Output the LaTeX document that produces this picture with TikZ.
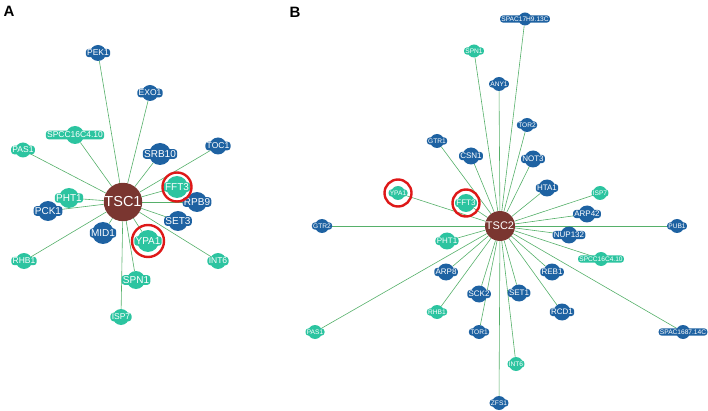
\documentclass[tikz,border=0pt]{standalone}
\usepackage{fontspec}
\setmainfont{Liberation Sans}
\usetikzlibrary{backgrounds}
\definecolor{geneblue}{RGB}{30,98,162}
\definecolor{geneteal}{RGB}{44,196,160}
\definecolor{hubbrown}{RGB}{122,54,48}
\definecolor{edgegreen}{RGB}{86,176,106}
\definecolor{ringred}{RGB}{222,24,24}
\tikzset{
  edge/.style={draw=edgegreen, line width=0.6pt},
  blu/.style={circle, fill=geneblue, inner sep=0pt},
  tea/.style={circle, fill=geneteal, inner sep=0pt},
  tagb/.style={fill=geneblue, rounded corners=3pt, inner sep=1.3pt, text=white},
  tagt/.style={fill=geneteal, rounded corners=3pt, inner sep=1.3pt, text=white},
  hub/.style={circle, fill=hubbrown, text=white, inner sep=0pt},
  ring/.style={circle, draw=ringred, line width=2.4pt, inner sep=0pt},
  panel/.style={font=\fontsize{15}{15}\selectfont\bfseries},
  fA/.style={font=\fontsize{8.5}{8.5}\selectfont},
  fAb/.style={font=\fontsize{10}{10}\selectfont},
  fB/.style={font=\fontsize{6.6}{6.6}\selectfont},
  fBb/.style={font=\fontsize{8}{8}\selectfont}
}
\begin{document}
\begin{tikzpicture}[x=1pt,y=-1pt]
\useasboundingbox (0,0) rectangle (708,411);
\node [panel] (lblA) at (9,11) {A};
\node [panel] (lblB) at (295,12) {B};
% panel A
\node [hub, minimum size=34pt, font=\fontsize{14.5}{14.5}\selectfont] (tsc1) at (123,202) {TSC1};
\node [blu, minimum size=16pt, label={[tagb,fA]center:PEK1}] (pek1a) at (98,53) {};
\node [blu, minimum size=16pt, label={[tagb,fA]center:EXO1}] (exo1a) at (150,93) {};
\node [tea, minimum size=18pt, label={[tagt,fA]center:SPCC16C4.10}] (spcca) at (75,135) {};
\node [tea, minimum size=15pt, label={[tagt,fA]center:PAS1}] (pas1a) at (23,150) {};
\node [blu, minimum size=22pt, label={[tagb,fAb]center:SRB10}] (srb10a) at (160,154) {};
\node [blu, minimum size=17pt, label={[tagb,fA]center:TOC1}] (toc1a) at (218,146) {};
\node [tea, minimum size=22pt, label={[tagt,fAb]center:FFT3}] (fft3a) at (177,187) {};
\node [blu, minimum size=20pt, label={[tagb,fAb]center:RPB9}] (rpb9a) at (197,202) {};
\node [blu, minimum size=20pt, label={[tagb,fAb]center:SET3}] (set3a) at (178,221) {};
\node [tea, minimum size=20pt, label={[tagt,fAb]center:PHT1}] (pht1a) at (69,198) {};
\node [blu, minimum size=20pt, label={[tagb,fAb]center:PCK1}] (pck1a) at (48,211) {};
\node [blu, minimum size=22pt, label={[tagb,fAb]center:MID1}] (mid1a) at (103,233) {};
\node [tea, minimum size=22pt, label={[tagt,fAb]center:YPA1}] (ypa1a) at (148,241) {};
\node [tea, minimum size=16pt, label={[tagt,fA]center:RHB1}] (rhb1a) at (24,261) {};
\node [tea, minimum size=16pt, label={[tagt,fA]center:INT6}] (int6a) at (218,261) {};
\node [tea, minimum size=18pt, label={[tagt,fAb]center:SPN1}] (spn1a) at (136,280) {};
\node [tea, minimum size=16pt, label={[tagt,fA]center:ISP7}] (isp7a) at (121,317) {};
\node [ring, minimum size=29pt] (ringfa) at (fft3a) {};
\node [ring, minimum size=32pt] (ringya) at (ypa1a) {};
% panel B
\node [hub, minimum size=30pt, font=\fontsize{11}{11}\selectfont] (tsc2) at (500,226) {TSC2};
\node [blu, minimum size=13pt, label={[tagb,fB]center:SPAC17H9.13C}] (spac17b) at (525,19) {};
\node [tea, minimum size=13pt, label={[tagt,fB]center:SPN1}] (spn1b) at (474,51) {};
\node [blu, minimum size=14pt, label={[tagb,fB]center:ANY1}] (any1b) at (499,84) {};
\node [blu, minimum size=14pt, label={[tagb,fB]center:TOR2}] (tor2b) at (527,125) {};
\node [blu, minimum size=14pt, label={[tagb,fB]center:GTR1}] (gtr1b) at (437,141) {};
\node [blu, minimum size=17pt, label={[tagb,fBb]center:CSN1}] (csn1b) at (471,156) {};
\node [blu, minimum size=17pt, label={[tagb,fBb]center:NOT3}] (not3b) at (533,159) {};
\node [blu, minimum size=17pt, label={[tagb,fBb]center:HTA1}] (hta1b) at (547,188) {};
\node [tea, minimum size=14pt, label={[tagt,fB]center:ISP7}] (isp7b) at (600,193) {};
\node [tea, minimum size=14pt, label={[tagt,fB]center:YPA1}] (ypa1b) at (398,193) {};
\node [tea, minimum size=18pt, label={[tagt,fBb]center:FFT3}] (fft3b) at (466,203) {};
\node [blu, minimum size=17pt, label={[tagb,fBb]center:ARP42}] (arp42b) at (587,214) {};
\node [blu, minimum size=14pt, label={[tagb,fB]center:GTR2}] (gtr2b) at (322,226) {};
\node [blu, minimum size=14pt, label={[tagb,fB]center:PUB1}] (pub1b) at (677,226) {};
\node [blu, minimum size=17pt, label={[tagb,fBb]center:NUP132}] (nup132b) at (569,235) {};
\node [tea, minimum size=17pt, label={[tagt,fBb]center:PHT1}] (pht1b) at (447,241) {};
\node [tea, minimum size=14pt, label={[tagt,fB]center:SPCC16C4.10}] (spccb) at (601,259) {};
\node [blu, minimum size=17pt, label={[tagb,fBb]center:ARP8}] (arp8b) at (446,272) {};
\node [blu, minimum size=17pt, label={[tagb,fBb]center:REB1}] (reb1b) at (552,272) {};
\node [blu, minimum size=17pt, label={[tagb,fBb]center:SCK2}] (sck2b) at (479,294) {};
\node [blu, minimum size=17pt, label={[tagb,fBb]center:SET1}] (set1b) at (519,293) {};
\node [tea, minimum size=14pt, label={[tagt,fB]center:RHB1}] (rhb1b) at (437,312) {};
\node [blu, minimum size=17pt, label={[tagb,fBb]center:RCD1}] (rcd1b) at (562,312) {};
\node [tea, minimum size=14pt, label={[tagt,fB]center:PAS1}] (pas1b) at (315,332) {};
\node [blu, minimum size=14pt, label={[tagb,fB]center:TOR1}] (tor1b) at (479,332) {};
\node [blu, minimum size=14pt, label={[tagb,fB]center:SPAC1687.14C}] (spac1687b) at (683,332) {};
\node [tea, minimum size=14pt, label={[tagt,fB]center:INT6}] (int6b) at (516,364) {};
\node [blu, minimum size=14pt, label={[tagb,fB]center:ZFS1}] (zfs1b) at (499,403) {};
\node [ring, minimum size=27pt] (ringfb) at (fft3b) {};
\node [ring, minimum size=27pt] (ringyb) at (ypa1b) {};
% edges
\begin{scope}[on background layer]
\draw [edge] (tsc1) -- (pek1a);
\draw [edge] (tsc1) -- (exo1a);
\draw [edge] (tsc1) -- (spcca);
\draw [edge] (tsc1) -- (pas1a);
\draw [edge] (tsc1) -- (srb10a);
\draw [edge] (tsc1) -- (toc1a);
\draw [edge] (tsc1) -- (fft3a);
\draw [edge] (tsc1) -- (rpb9a);
\draw [edge] (tsc1) -- (set3a);
\draw [edge] (tsc1) -- (pht1a);
\draw [edge] (tsc1) -- (pck1a);
\draw [edge] (tsc1) -- (mid1a);
\draw [edge] (tsc1) -- (ypa1a);
\draw [edge] (tsc1) -- (rhb1a);
\draw [edge] (tsc1) -- (int6a);
\draw [edge] (tsc1) -- (spn1a);
\draw [edge] (tsc1) -- (isp7a);
\draw [edge] (tsc2) -- (spac17b);
\draw [edge] (tsc2) -- (spn1b);
\draw [edge] (tsc2) -- (any1b);
\draw [edge] (tsc2) -- (tor2b);
\draw [edge] (tsc2) -- (gtr1b);
\draw [edge] (tsc2) -- (csn1b);
\draw [edge] (tsc2) -- (not3b);
\draw [edge] (tsc2) -- (hta1b);
\draw [edge] (tsc2) -- (isp7b);
\draw [edge] (tsc2) -- (ypa1b);
\draw [edge] (tsc2) -- (fft3b);
\draw [edge] (tsc2) -- (arp42b);
\draw [edge] (tsc2) -- (gtr2b);
\draw [edge] (tsc2) -- (pub1b);
\draw [edge] (tsc2) -- (nup132b);
\draw [edge] (tsc2) -- (pht1b);
\draw [edge] (tsc2) -- (spccb);
\draw [edge] (tsc2) -- (arp8b);
\draw [edge] (tsc2) -- (reb1b);
\draw [edge] (tsc2) -- (sck2b);
\draw [edge] (tsc2) -- (set1b);
\draw [edge] (tsc2) -- (rhb1b);
\draw [edge] (tsc2) -- (rcd1b);
\draw [edge] (tsc2) -- (pas1b);
\draw [edge] (tsc2) -- (tor1b);
\draw [edge] (tsc2) -- (spac1687b);
\draw [edge] (tsc2) -- (int6b);
\draw [edge] (tsc2) -- (zfs1b);
\end{scope}
\end{tikzpicture}
\end{document}
